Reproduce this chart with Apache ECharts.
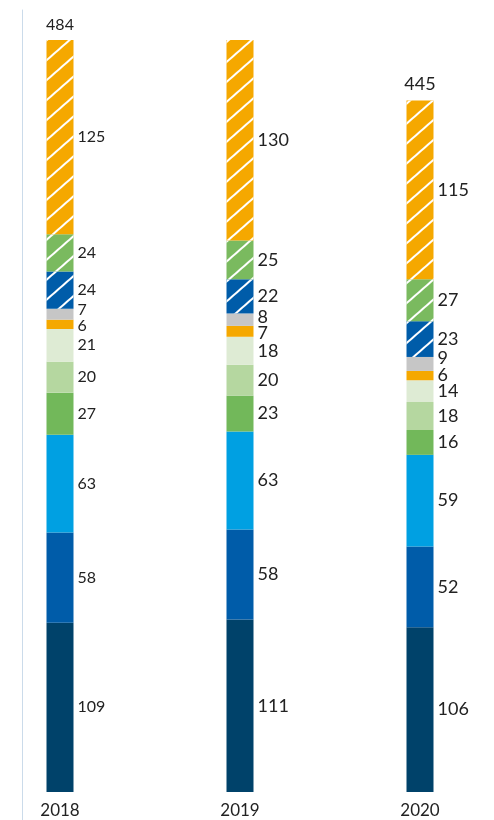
<!DOCTYPE html>
<html><head><meta charset="utf-8">
<script src="https://cdn.jsdelivr.net/npm/echarts@6/dist/echarts.min.js"></script>
<style>html,body{margin:0;padding:0;background:#fff}#c{width:494px;height:820px}</style>
</head><body><div id="c"></div>
<script>
const years = ['2018', '2019', '2020'];
const s1 = [109, 111, 106];
const s2 = [58, 58, 52];
const s3 = [63, 63, 59];
const s4 = [27, 23, 16];
const s5 = [20, 20, 18];
const s6 = [21, 18, 14];
const s7 = [6, 7, 6];
const s8 = [7, 8, 9];
const s9 = [24, 22, 23];
const s10 = [24, 25, 27];
const s11 = [125, 130, 115];
const totals = [484, 485, 445];

const segs = [
  {d: s1, c: '#00426a'},
  {d: s2, c: '#005ca9'},
  {d: s3, c: '#00a0e2'},
  {d: s4, c: '#72b85a'},
  {d: s5, c: '#b5d7a0'},
  {d: s6, c: '#deebd4'},
  {d: s7, c: '#f5a800', nudge: [2, 2, 0]},
  {d: s8, c: '#c6c6c6', nudge: [-4, -2, -6]},
  {d: s9, c: '#005ca9', h: true},
  {d: s10, c: '#7aba5f', h: true},
  {d: s11, c: '#f5a800', h: true}
];
const fs = [16, 18, 18];
const FONT = 'Lato';
const TXT = '#222';

const hatch = {
  symbol: 'rect', symbolSize: 1, color: '#ffffff',
  dashArrayX: [1, 0], dashArrayY: [1.6, 13], rotation: -0.72
};

const series = segs.map(s => ({
  type: 'bar', stack: 'a', barWidth: 27, xAxisIndex: 0, yAxisIndex: 0,
  itemStyle: Object.assign({color: s.c}, s.h ? {decal: hatch} : {}),
  label: {show: true, position: 'right', distance: 4, color: TXT, fontFamily: FONT},
  emphasis: {disabled: true},
  data: s.d.map((v, i) => ({value: v, label: {fontSize: fs[i], offset: [0, s.nudge ? s.nudge[i] : 0]}}))
}));
series.push({
  type: 'scatter', symbolSize: 0, xAxisIndex: 0, yAxisIndex: 0,
  itemStyle: {opacity: 1, color: 'transparent'},
  label: {show: true, position: 'top', distance: 7, color: TXT, fontFamily: FONT, opacity: 1},
  emphasis: {disabled: true},
  data: totals.map((v, i) => ({value: v, label: {fontSize: fs[i]}}))
});

const chart = echarts.init(document.getElementById('c'), null, {renderer: 'canvas'});
chart.setOption({
  animation: false,
  grid: [
    {left: -30, width: 540, top: 40, bottom: 28, outerBoundsMode: 'none', containLabel: false},
    {left: 22, width: 1, top: 10, bottom: 0, outerBoundsMode: 'none'}
  ],
  xAxis: [
    {type: 'category', data: years, gridIndex: 0,
     axisLine: {show: false}, axisTick: {show: false},
     axisLabel: {fontSize: 17, color: TXT, fontFamily: FONT, margin: 10}},
    {type: 'value', gridIndex: 1, show: false}
  ],
  yAxis: [
    {type: 'value', min: 0, max: 484, gridIndex: 0, show: false},
    {type: 'value', gridIndex: 1, axisLine: {show: true, lineStyle: {color: '#cbdbea', width: 1}},
     axisLabel: {show: false}, axisTick: {show: false}, splitLine: {show: false}}
  ],
  series: series
});
</script></body></html>
